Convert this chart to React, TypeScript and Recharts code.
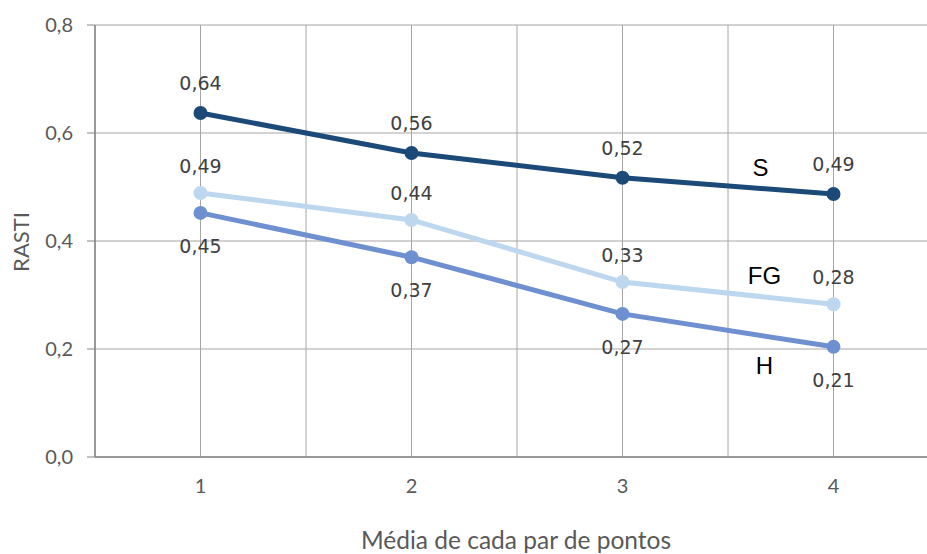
import React from 'react';
import { LineChart, Line, XAxis, YAxis, CartesianGrid, LabelList } from 'recharts';

const categories = [1, 2, 3, 4];
const sValues = [0.637, 0.563, 0.517, 0.487];
const fgValues = [0.489, 0.439, 0.324, 0.283];
const hValues = [0.452, 0.37, 0.265, 0.204];
const sLabels = ['0,64', '0,56', '0,52', '0,49'];
const fgLabels = ['0,49', '0,44', '0,33', '0,28'];
const hLabels = ['0,45', '0,37', '0,27', '0,21'];
const xTicks = [0.5, 1, 1.5, 2, 2.5, 3, 3.5, 4, 4.5];
const yTicks = [0, 0.2, 0.4, 0.6, 0.8];
const xTitle = 'Média de cada par de pontos';
const yTitle = 'RASTI';

const data = categories.map((c, i) => ({ x: c, S: sValues[i], FG: fgValues[i], H: hValues[i] }));

const valueFont = "'DejaVu Sans', sans-serif";
const axisFont = "Lato, 'Open Sans', sans-serif";

function makeLabel(labels: string[], name: string, dy: number, nameDx: number, nameDy: number) {
  return (props: any) => {
    const { x, y, index } = props;
    const last = index === labels.length - 1;
    return (
      <g>
        <text x={x} y={y + dy} textAnchor="middle" dominantBaseline="central"
          fontFamily={valueFont} fontSize={19} fill="#404040">{labels[index]}</text>
        {last ? (
          <text x={x + nameDx} y={y + nameDy} textAnchor="middle" dominantBaseline="central"
            fontFamily="'Liberation Sans', Arial, sans-serif" fontSize={24} fill="#000">{name}</text>
        ) : null}
      </g>
    );
  };
}

export default function App() {
  return (
    <div style={{ position: 'absolute', left: 0, top: 0, width: 927, height: 554, overflow: 'hidden', background: '#fff' }}>
      <LineChart width={945} height={554} data={data} margin={{ top: 25, right: 6, bottom: 0, left: 0 }}>
        <CartesianGrid stroke="#a6a6a6" strokeWidth={1} />
        <XAxis
          dataKey="x"
          type="number"
          domain={[0.5, 4.5]}
          ticks={xTicks}
          allowDataOverflow
          interval={0}
          height={97}
          tickLine={false}
          tickSize={0}
          tickMargin={22}
          axisLine={{ stroke: '#868686', strokeWidth: 1.5 }}
          tickFormatter={(v: number) => (Number.isInteger(v) ? String(v) : '')}
          tick={{ fontFamily: axisFont, fontSize: 20, fill: '#595959' }}
          label={{
            content: (p: any) => {
              const vb = p.viewBox;
              return (
                <text x={vb.x + vb.width / 2 - 1} y={vb.y + 82} textAnchor="middle" dominantBaseline="central"
                  fontFamily={axisFont} fontSize={24.5} fill="#595959">{xTitle}</text>
              );
            },
          }}
        />
        <YAxis
          type="number"
          domain={[0, 0.8]}
          ticks={yTicks}
          width={95}
          tickSize={8}
          tickMargin={14}
          axisLine={{ stroke: '#868686', strokeWidth: 1.5 }}
          tickLine={{ stroke: '#868686' }}
          tickFormatter={(v: number) => v.toFixed(1).replace('.', ',')}
          tick={{ fontFamily: axisFont, fontSize: 20, fill: '#595959' }}
          label={{
            content: (p: any) => {
              const vb = p.viewBox;
              const cx = vb.x + 20;
              const cy = vb.y + vb.height / 2 + 1;
              return (
                <text x={cx} y={cy} textAnchor="middle" dominantBaseline="central" transform={`rotate(-90 ${cx} ${cy})`}
                  fontFamily={axisFont} fontSize={22} fill="#595959">{yTitle}</text>
              );
            },
          }}
        />
        <Line type="linear" dataKey="H" stroke="#6f90d0" strokeWidth={5} isAnimationActive={false}
          dot={{ r: 7, fill: '#6f90d0', stroke: '#6f90d0', strokeWidth: 0 }}>
          <LabelList dataKey="H" content={makeLabel(hLabels, 'H', 33, -69, 19)} />
        </Line>
        <Line type="linear" dataKey="FG" stroke="#bdd7ee" strokeWidth={5} isAnimationActive={false}
          dot={{ r: 7, fill: '#bdd7ee', stroke: '#bdd7ee', strokeWidth: 0 }}>
          <LabelList dataKey="FG" content={makeLabel(fgLabels, 'FG', -27, -69, -29)} />
        </Line>
        <Line type="linear" dataKey="S" stroke="#1c4a78" strokeWidth={5} isAnimationActive={false}
          dot={{ r: 7, fill: '#1c4a78', stroke: '#1c4a78', strokeWidth: 0 }}>
          <LabelList dataKey="S" content={makeLabel(sLabels, 'S', -30, -73, -27)} />
        </Line>
      </LineChart>
    </div>
  );
}
